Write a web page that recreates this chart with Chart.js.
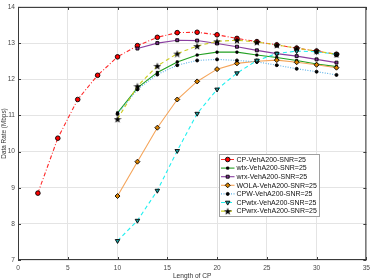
<!DOCTYPE html>
<html>
<head>
<meta charset="utf-8">
<script src="https://cdn.jsdelivr.net/npm/chart.js@4.4.1/dist/chart.umd.min.js"></script>
<style>
  html, body { margin: 0; padding: 0; background: #fff; }
  #wrap { width: 374px; height: 280px; }
</style>
</head>
<body>
<div id="wrap"><canvas id="rate_canvas" width="374" height="280"></canvas></div>
<script>
// CP lengths
var cp_len_all  = [2, 4, 6, 8, 10, 12, 14, 16, 18, 20, 22, 24, 26, 28, 30, 32];
var cp_len_10   = [10, 12, 14, 16, 18, 20, 22, 24, 26, 28, 30, 32];
var cp_len_12   = [12, 14, 16, 18, 20, 22, 24, 26, 28, 30, 32];

// data rate (Mbps) per scheme
var rate_cp    = [8.85, 10.37, 11.44, 12.11, 12.62, 12.93, 13.16, 13.29, 13.30, 13.23, 13.13, 13.04, 12.95, 12.86, 12.78, 12.69];
var rate_wtx   = [11.07, 11.76, 12.19, 12.48, 12.67, 12.75, 12.75, 12.67, 12.60, 12.52, 12.42, 12.35];
var rate_wrx   = [12.85, 13.00, 13.08, 13.07, 12.99, 12.90, 12.80, 12.71, 12.64, 12.55, 12.46];
var rate_wola  = [8.77, 9.72, 10.66, 11.44, 11.94, 12.28, 12.44, 12.50, 12.53, 12.47, 12.40, 12.32];
var rate_cpw   = [11.04, 11.72, 12.13, 12.39, 12.52, 12.55, 12.52, 12.48, 12.39, 12.29, 12.21, 12.12];
var rate_cpwtx = [7.53, 8.09, 8.92, 10.02, 11.05, 11.72, 12.17, 12.52, 12.71, 12.78, 12.76, 12.69];
var rate_cpwrx = [10.90, 11.81, 12.37, 12.71, 12.92, 13.05, 13.08, 13.03, 12.95, 12.86, 12.78, 12.69];

var x_ticks = [0, 5, 10, 15, 20, 25, 30, 35];
var y_ticks = [7, 8, 9, 10, 11, 12, 13, 14];

(function() {
  'use strict';

  var FONT = "'Liberation Sans', Arial, sans-serif";

  //  filled five point star for the CPwrx markers
  function makeStar(size) {
    var c = document.createElement('canvas');
    c.width = size; c.height = size;
    var g = c.getContext('2d');
    g.beginPath();
    for (var k = 0; k < 10; k++) {
      var r = (k % 2) ? size * 0.2 : size * 0.5,
          a = -Math.PI / 2 + k * Math.PI / 5;
      g.lineTo(size / 2 + r * Math.cos(a), size / 2 + 0.5 + r * Math.sin(a));
    }
    g.closePath();
    g.fillStyle = '#000';
    g.fill();
    return c;
  }

  function toPoints(xs, ys) {
    var out = [];
    for (var i = 0; i < xs.length; i++) out.push({x: xs[i], y: ys[i]});
    return out;
  }

  var series = [
    {label: 'CP-VehA200-SNR=25',    x: cp_len_all, y: rate_cp,    color: '#ff2a2a', dash: [4, 2, 1, 2], style: 'circle',   fill: '#ff0000', r: 2.3},
    {label: 'wtx-VehA200-SNR=25',   x: cp_len_10,  y: rate_wtx,   color: '#22a022', dash: [],           style: 'rect',     fill: '#000',    r: 1.5},
    {label: 'wrx-VehA200-SNR=25',   x: cp_len_12,  y: rate_wrx,   color: '#8a3fa0', dash: [],           style: 'rect',     fill: '#7e2f8e', r: 2.1},
    {label: 'WOLA-VehA200-SNR=25',  x: cp_len_10,  y: rate_wola,  color: '#f5a55a', dash: [],           style: 'rectRot',  fill: '#d98200', r: 2.5},
    {label: 'CPW-VehA200-SNR=25',   x: cp_len_10,  y: rate_cpw,   color: '#5ab0e8', dash: [1, 1.5],     style: 'circle',   fill: '#000',    r: 1.5},
    {label: 'CPwtx-VehA200-SNR=25', x: cp_len_10,  y: rate_cpwtx, color: '#22f0f0', dash: [4, 3],       style: 'triangle', fill: '#1aa0a0', r: 2.6, rot: 180},
    {label: 'CPwrx-VehA200-SNR=25', x: cp_len_10,  y: rate_cpwrx, color: '#cccc20', dash: [4, 3],       style: makeStar(8), fill: '#000', r: 4}
  ];

  var datasets = series.map(function(s, i) {
    return {
      label: s.label,
      data: toPoints(s.x, s.y),
      borderColor: s.color,
      borderWidth: 1.1,
      borderDash: s.dash,
      pointStyle: s.style,
      pointRotation: s.rot || 0,
      pointRadius: s.r,
      pointBackgroundColor: s.fill,
      pointBorderColor: '#000',
      pointBorderWidth: 0.9,
      fill: false,
      tension: 0,
      order: series.length - i
    };
  });

  //  box, inward ticks and the legend inside the axes
  var framePlugin = {
    id: 'frame',
    afterDraw: function(chart) {
      var ctx = chart.ctx, a = chart.chartArea,
          xs = chart.scales.x, ys = chart.scales.y;

      ctx.save();
      ctx.strokeStyle = '#3a3a3a';
      ctx.lineWidth = 1;
      ctx.strokeRect(a.left + 0.5, a.top + 0.5, a.right - a.left - 1, a.bottom - a.top - 1);

      ctx.beginPath();
      x_ticks.forEach(function(v) {
        var px = Math.round(xs.getPixelForValue(v)) + 0.5;
        ctx.moveTo(px, a.bottom); ctx.lineTo(px, a.bottom - 3);
        ctx.moveTo(px, a.top);    ctx.lineTo(px, a.top + 3);
      });
      y_ticks.forEach(function(v) {
        var py = Math.round(ys.getPixelForValue(v)) + 0.5;
        ctx.moveTo(a.left, py);  ctx.lineTo(a.left + 3, py);
        ctx.moveTo(a.right, py); ctx.lineTo(a.right - 3, py);
      });
      ctx.stroke();

      //  legend
      var lx = 219.5, ly = 154.5, lw = 100, lh = 62, row = 8.6;
      ctx.fillStyle = '#fff';
      ctx.fillRect(lx, ly, lw, lh);
      ctx.strokeStyle = '#a0a0a0';
      ctx.strokeRect(lx, ly, lw, lh);

      ctx.font = '7px ' + FONT;
      ctx.textBaseline = 'middle';
      ctx.textAlign = 'left';

      chart.data.datasets.forEach(function(ds, i) {
        var yy = ly + 5 + i * row;
        ctx.save();
        ctx.strokeStyle = ds.borderColor;
        ctx.lineWidth = ds.borderWidth;
        ctx.setLineDash(ds.borderDash);
        ctx.beginPath();
        ctx.moveTo(lx + 1.5, yy); ctx.lineTo(lx + 15, yy);
        ctx.stroke();
        ctx.setLineDash([]);
        ctx.fillStyle = ds.pointBackgroundColor;
        ctx.strokeStyle = ds.pointBorderColor;
        ctx.lineWidth = ds.pointBorderWidth;
        Chart.helpers.drawPoint(ctx, {
          pointStyle: ds.pointStyle,
          radius: ds.pointRadius,
          rotation: ds.pointRotation,
          borderWidth: ds.pointBorderWidth
        }, lx + 8.2, yy);
        ctx.restore();

        ctx.fillStyle = '#111';
        ctx.fillText(ds.label, lx + 17, yy + 0.3);
      });
      ctx.restore();
    }
  };

  var ctx = document.getElementById('rate_canvas').getContext('2d');

  var rate_chart = new Chart(ctx, {
    type: 'line',
    data: {datasets: datasets},
    plugins: [framePlugin],
    options: {
      responsive: false,
      devicePixelRatio: 1,
      animation: false,
      layout: {padding: {top: 3, right: 5, left: 0, bottom: 0}},
      plugins: {
        legend: {display: false},
        tooltip: {enabled: false}
      },
      scales: {
        x: {
          type: 'linear',
          min: 0,
          max: 35,
          afterBuildTicks: function(scale) {
            scale.ticks = x_ticks.map(function(v) { return {value: v}; });
          },
          afterFit: function(scale) { scale.height = 20; },
          grid: {color: '#e4e4e4', drawTicks: false},
          border: {display: false},
          ticks: {padding: 4, color: '#4a4a4a', font: {family: FONT, size: 6.6}, maxRotation: 0},
          title: {display: true, text: 'Length of CP', color: '#333', font: {family: FONT, size: 6.6}, padding: {top: 0, bottom: 0}}
        },
        y: {
          type: 'linear',
          min: 7,
          max: 14,
          afterBuildTicks: function(scale) {
            scale.ticks = y_ticks.map(function(v) { return {value: v}; });
          },
          afterFit: function(scale) { scale.width = 18; },
          grid: {color: '#e4e4e4', drawTicks: false},
          border: {display: false},
          ticks: {padding: 3, color: '#4a4a4a', font: {family: FONT, size: 6.6}},
          title: {display: true, text: 'Data Rate (Mbps)', color: '#333', font: {family: FONT, size: 6.4}, padding: {top: 0, bottom: 0}}
        }
      }
    }
  });

})();
</script>
</body>
</html>
